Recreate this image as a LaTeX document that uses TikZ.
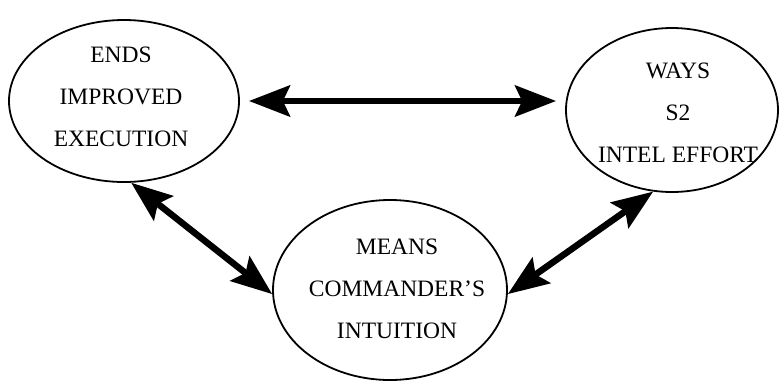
\documentclass[tikz,border=0pt]{standalone}
\usepackage{fontspec}
\setmainfont{Liberation Serif}
\usetikzlibrary{shapes.geometric,arrows.meta}
\tikzset{
  goal/.style={draw, ellipse, line width=1.8pt, inner sep=0pt},
  goaltext/.style={align=center, font=\fontsize{23.5}{42}\selectfont},
  link/.style={line width=6.5pt,
    {Stealth[length=41pt,width=31pt,inset=7pt]}-{Stealth[length=41pt,width=31pt,inset=7pt]}}
}
\begin{document}
\begin{tikzpicture}[x=1pt,y=-1pt]
\useasboundingbox (0,0) rectangle (779,381);
% the three ellipses
\node[goal, minimum width=230pt, minimum height=162pt] (ends) at (124,101) {};
\node[goal, minimum width=212pt, minimum height=164pt] (ways) at (672,110) {};
\node[goal, minimum width=234pt, minimum height=180pt] (means) at (390,290) {};
\node[goaltext] (endstext) at (121,97) {ENDS\\IMPROVED\\EXECUTION};
\node[goaltext] (waystext) at (678,113) {WAYS\\S2\\INTEL EFFORT};
\node[goaltext] (meanstext) at (397,289) {MEANS\\COMMANDER'S\\INTUITION};

% links
\draw[link, shorten <=9pt, shorten >=9pt] (ends.east) -- (ends.east -| ways.west);
\draw[link] (ends.275) -- (means.182);
\draw[link] (ways.257) -- (means.358);

\end{tikzpicture}
\end{document}
